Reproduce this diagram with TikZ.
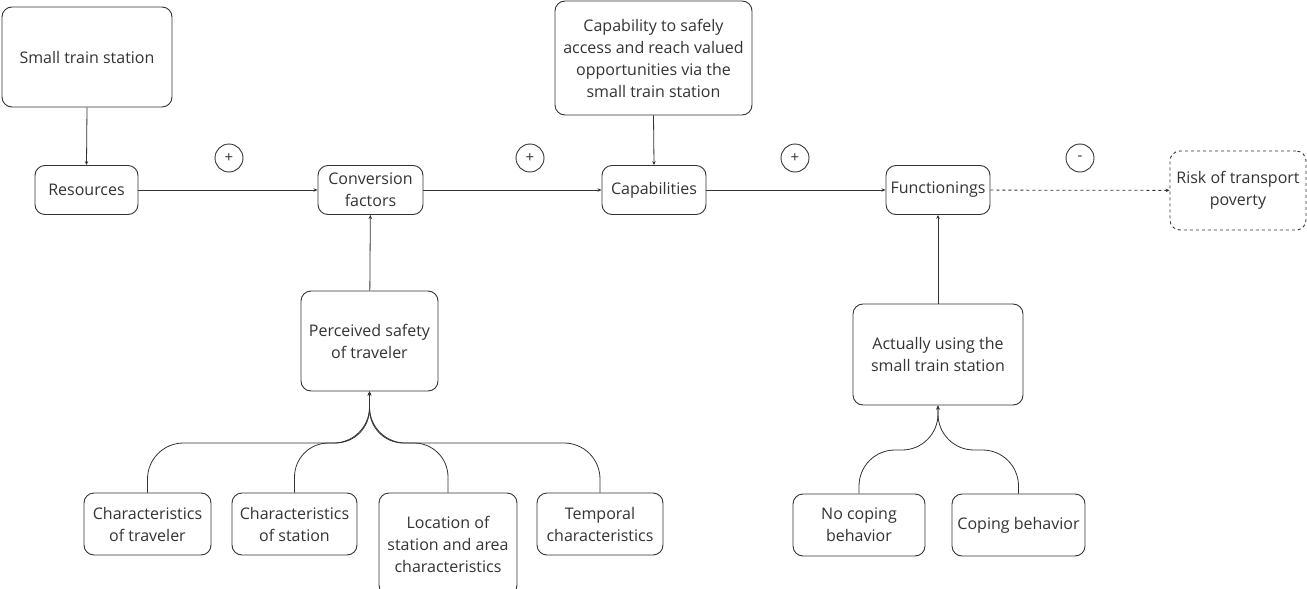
\documentclass[tikz,border=0pt]{standalone}
\usepackage{fontspec}
\setmainfont{Open Sans}
\usetikzlibrary{arrows.meta}
\definecolor{ink}{HTML}{333333}
\tikzset{
  box/.style={draw=ink, text=ink, line width=0.9pt, rounded corners=10pt, align=center, inner sep=0pt, font=\fontsize{16}{22}\selectfont},
  sign/.style={circle, draw=ink, text=ink, line width=0.9pt, minimum size=28pt, inner sep=0pt, font=\fontsize{15}{15}\selectfont},
  link/.style={draw=ink, line width=0.8pt, -{Stealth[length=4pt,width=3.5pt]}},
}
\begin{document}
\begin{tikzpicture}[x=1pt,y=-1pt]
  \useasboundingbox (0,0) rectangle (1307,589);
  % top row
  \node[box, minimum width=170pt, minimum height=100pt] (station) at (87,57) {Small train station};
  \node[box, minimum width=197pt, minimum height=114pt] (capto) at (653.5,58) {Capability to safely\\access and reach valued\\opportunities via the\\small train station};
  % main chain
  \node[box, minimum width=103pt, minimum height=49pt] (res) at (86.5,190) {Resources};
  \node[box, minimum width=105pt, minimum height=49pt] (conv) at (370.5,190) {Conversion\\factors};
  \node[box, minimum width=104pt, minimum height=49pt] (capa) at (654,190) {Capabilities};
  \node[box, minimum width=104pt, minimum height=49pt] (func) at (938,190) {Functionings};
  \node[box, dashed, minimum width=136pt, minimum height=79pt] (risk) at (1238,190.5) {Risk of transport\\poverty};
  % signs
  \node[sign] (s1) at (229,158) {+};
  \node[sign] (s2) at (530,158) {+};
  \node[sign] (s3) at (795,158) {+};
  \node[sign] (s4) at (1080,158) {-};
  % lower part
  \node[box, minimum width=137pt, minimum height=100pt] (safety) at (369.5,341) {Perceived safety\\of traveler};
  \node[box, minimum width=170pt, minimum height=101pt] (use) at (938,354.5) {Actually using the\\small train station};
  \node[box, minimum width=127pt, minimum height=62pt] (trav) at (147.5,524) {Characteristics\\of traveler};
  \node[box, minimum width=125pt, minimum height=62pt] (stat) at (294.5,524) {Characteristics\\of station};
  \node[box, minimum width=138pt, minimum height=102pt] (loc) at (448,544) {Location of\\station and area\\characteristics};
  \node[box, minimum width=126pt, minimum height=62pt] (temp) at (600,524) {Temporal\\characteristics};
  \node[box, minimum width=132pt, minimum height=62pt] (nocope) at (859,525) {No coping\\behavior};
  \node[box, minimum width=133pt, minimum height=62pt] (cope) at (1018.5,525) {Coping behavior};
  \coordinate (hubL) at (369.5,443);
  \coordinate (hubR) at (938,450);

  \draw[link] (station.south) -- (res.north);
  \draw[link] (res) -- (conv);
  \draw[link] (conv) -- (capa);
  \draw[link] (capa) -- (func);
  \draw[link, dashed] (func) -- (risk);
  \draw[link] (capto.south) -- (capa.north);
  \draw[link] (safety) -- (conv);
  \draw[link] (use) -- (func);
  \foreach \n in {trav, temp}
    \draw[link, rounded corners=36pt] (\n.north) |- (hubL) -- (safety.south);
  \foreach \n in {stat, loc}
    \draw[link, rounded corners=34pt] (\n.north) |- (hubL) -- (safety.south);
  \foreach \n in {nocope, cope}
    \draw[link, rounded corners=36pt] (\n.north) |- (hubR) -- (use.south);
\end{tikzpicture}
\end{document}
